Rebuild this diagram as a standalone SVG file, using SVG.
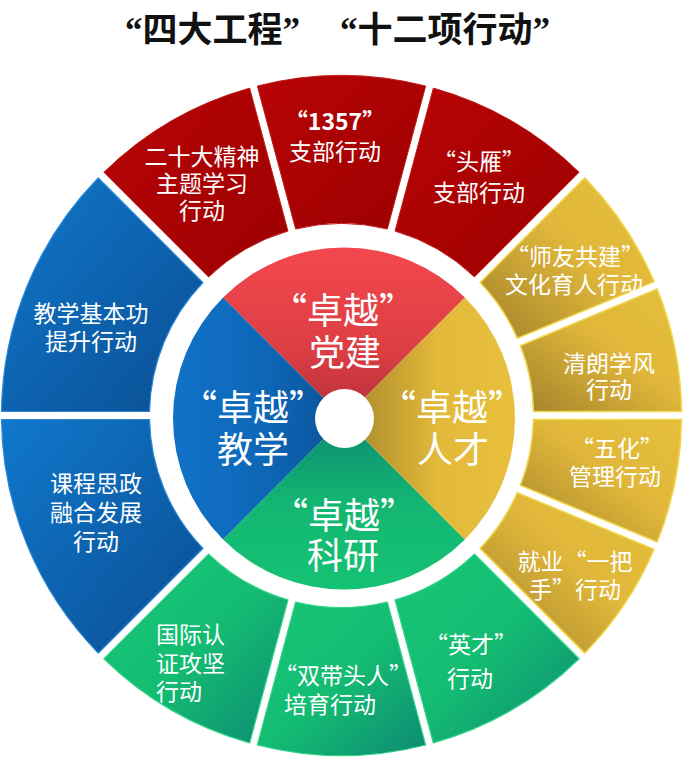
<svg xmlns="http://www.w3.org/2000/svg" width="698" height="758" viewBox="0 0 698 758">
<defs>
<style>
.t{font-family:"Noto Sans CJK SC","Noto Sans",sans-serif;fill:#fff;text-anchor:middle;dominant-baseline:central;font-size:23px}
.s{text-anchor:start}
.b{font-size:36px}
.title{font-family:"Liberation Serif","Noto Sans CJK SC",serif;font-weight:bold;font-size:35px;fill:#111;dominant-baseline:central}
.red{fill:url(#gRed);stroke:#c01a1a;stroke-width:1}
.blue{fill:url(#gBlue);stroke:#2a88d6;stroke-width:1.2}
.green{fill:url(#gGreen);stroke:#2fd486;stroke-width:1.2}
.yel{fill:url(#gYel);stroke:#f0d64a;stroke-width:1.6}
</style>
<linearGradient id="gRed" x1="0" y1="0" x2="1" y2="1"><stop offset="0" stop-color="#b80406"/><stop offset="1" stop-color="#9c0000"/></linearGradient>
<linearGradient id="gBlue" x1="0" y1="0" x2="1" y2="1"><stop offset="0" stop-color="#1078cc"/><stop offset="1" stop-color="#0a4e92"/></linearGradient>
<linearGradient id="gGreen" x1="0" y1="0" x2="1" y2="1"><stop offset="0" stop-color="#17c676"/><stop offset="0.5" stop-color="#14bc72"/><stop offset="1" stop-color="#0d8a73"/></linearGradient>
<linearGradient id="gYel" x1="0" y1="1" x2="1" y2="0"><stop offset="0" stop-color="#a3822b"/><stop offset="0.55" stop-color="#e0b73a"/><stop offset="1" stop-color="#e6bf3c"/></linearGradient>
<linearGradient id="qRed" gradientUnits="userSpaceOnUse" x1="0" y1="248" x2="0" y2="418"><stop offset="0" stop-color="#f2484e"/><stop offset="0.6" stop-color="#dc3e44"/><stop offset="1" stop-color="#b52f38"/></linearGradient>
<linearGradient id="qYel" gradientUnits="userSpaceOnUse" x1="515" y1="0" x2="344" y2="0"><stop offset="0" stop-color="#e8c03c"/><stop offset="0.45" stop-color="#e2b93a"/><stop offset="1" stop-color="#a6862a"/></linearGradient>
<linearGradient id="qGreen" gradientUnits="userSpaceOnUse" x1="0" y1="590" x2="0" y2="418"><stop offset="0" stop-color="#15c374"/><stop offset="0.5" stop-color="#13b672"/><stop offset="1" stop-color="#0e8a72"/></linearGradient>
<linearGradient id="qBlue" gradientUnits="userSpaceOnUse" x1="173" y1="0" x2="344" y2="0"><stop offset="0" stop-color="#1072c8"/><stop offset="0.5" stop-color="#0e68b8"/><stop offset="1" stop-color="#0a5296"/></linearGradient>
</defs>
<rect width="698" height="758" fill="#fff"/>
<g id="title">
<text class="title" x="125" y="30">“四大工程”</text>
<text class="title" x="340" y="30">“十二项行动”</text>
</g>
<g id="outer">
<g id="seg-ershida">
<path class="red" d="M287.95 231.07 L249.64 88.11 A340 340 0 0 0 103.91 172.25 L208.57 276.91 A192 192 0 0 1 287.95 231.07 Z"/>
<text class="t"><tspan x="202" y="155">二十大精神</tspan><tspan x="202" y="182">主题学习</tspan><tspan x="202" y="209">行动</tspan></text>
</g>
<g id="seg-1357">
<path class="red" d="M387.33 229 L425.64 86.04 A340 340 0 0 0 257.36 86.04 L295.67 229 A192 192 0 0 1 387.33 229 Z"/>
<text class="t"><tspan x="335" y="120" font-weight="bold">“1357”</tspan><tspan x="335" y="150">支部行动</tspan></text>
</g>
<g id="seg-touyan">
<path class="red" d="M474.43 276.91 L579.09 172.25 A340 340 0 0 0 433.36 88.11 L395.05 231.07 A192 192 0 0 1 474.43 276.91 Z"/>
<text class="t"><tspan x="479" y="160">“头雁”</tspan><tspan x="479" y="191">支部行动</tspan></text>
</g>
<g id="seg-shiyou">
<path class="yel" d="M517.35 338.33 L654.09 281.69 A340 340 0 0 0 584.75 177.91 L480.09 282.57 A192 192 0 0 1 517.35 338.33 Z"/>
<text class="t"><tspan x="575" y="255">“师友共建”</tspan><tspan x="574" y="283">文化育人行动</tspan></text>
</g>
<g id="seg-qinglang">
<path class="yel" d="M533.5 411.5 L681.5 411.5 A340 340 0 0 0 657.15 289.09 L520.41 345.73 A192 192 0 0 1 533.5 411.5 Z"/>
<text class="t"><tspan x="609" y="362">清朗学风</tspan><tspan x="609" y="388">行动</tspan></text>
</g>
<g id="seg-wuhua">
<path class="yel" d="M520.41 485.27 L657.15 541.91 A340 340 0 0 0 681.5 419.5 L533.5 419.5 A192 192 0 0 1 520.41 485.27 Z"/>
<text class="t"><tspan x="617" y="447">“五化”</tspan><tspan x="615" y="475">管理行动</tspan></text>
</g>
<g id="seg-jiuye">
<path class="yel" d="M480.09 548.43 L584.75 653.09 A340 340 0 0 0 654.09 549.31 L517.35 492.67 A192 192 0 0 1 480.09 548.43 Z"/>
<text class="t"><tspan x="575" y="560">就业“一把</tspan><tspan x="575" y="588">手”行动</tspan></text>
</g>
<g id="seg-yingcai">
<path class="green" d="M395.05 599.93 L433.36 742.89 A340 340 0 0 0 579.09 658.75 L474.43 554.09 A192 192 0 0 1 395.05 599.93 Z"/>
<text class="t" font-size="26"><tspan x="471" y="643">“英才”</tspan><tspan x="470" y="677">行动</tspan></text>
</g>
<g id="seg-shuangdai">
<path class="green" d="M295.67 602 L257.36 744.96 A340 340 0 0 0 425.64 744.96 L387.33 602 A192 192 0 0 1 295.67 602 Z"/>
<text class="t"><tspan x="343" y="674">“双带头人”</tspan><tspan x="330" y="703">培育行动</tspan></text>
</g>
<g id="seg-guoji">
<path class="green" d="M208.57 554.09 L103.91 658.75 A340 340 0 0 0 249.64 742.89 L287.95 599.93 A192 192 0 0 1 208.57 554.09 Z"/>
<text class="t s"><tspan x="156" y="633">国际认</tspan><tspan x="156" y="662">证攻坚</tspan><tspan x="156" y="690">行动</tspan></text>
</g>
<g id="seg-kecheng">
<path class="blue" d="M149.5 419.5 L1.5 419.5 A340 340 0 0 0 98.25 653.09 L202.91 548.43 A192 192 0 0 1 149.5 419.5 Z"/>
<text class="t"><tspan x="96" y="482">课程思政</tspan><tspan x="96" y="511">融合发展</tspan><tspan x="96" y="540">行动</tspan></text>
</g>
<g id="seg-jiaoxue">
<path class="blue" d="M202.91 282.57 L98.25 177.91 A340 340 0 0 0 1.5 411.5 L149.5 411.5 A192 192 0 0 1 202.91 282.57 Z"/>
<text class="t"><tspan x="91" y="312">教学基本功</tspan><tspan x="91" y="340">提升行动</tspan></text>
</g>
</g>
<g id="inner">
<g id="q-dangjian">
<path fill="url(#qRed)" d="M344 418.5 L464.92 297.58 A171 171 0 0 0 223.08 297.58 Z"/>
<text class="t b"><tspan x="343" y="308">“卓越”</tspan><tspan x="345" y="350">党建</tspan></text>
</g>
<g id="q-jiaoxue">
<path fill="url(#qBlue)" d="M344 418.5 L223.08 297.58 A171 171 0 0 0 223.08 539.42 Z"/>
<text class="t b"><tspan x="253" y="405">“卓越”</tspan><tspan x="253" y="447">教学</tspan></text>
</g>
<g id="q-keyan">
<path fill="url(#qGreen)" d="M344 418.5 L223.08 539.42 A171 171 0 0 0 464.92 539.42 Z"/>
<text class="t b"><tspan x="344" y="513">“卓越”</tspan><tspan x="343" y="553">科研</tspan></text>
</g>
<g id="q-rencai">
<path fill="url(#qYel)" d="M344 418.5 L464.92 539.42 A171 171 0 0 0 464.92 297.58 Z"/>
<text class="t b"><tspan x="452" y="405">“卓越”</tspan><tspan x="453" y="447">人才</tspan></text>
</g>
<circle id="hole" cx="344.5" cy="418.5" r="29.5" fill="#fff"/>
</g>
</svg>
